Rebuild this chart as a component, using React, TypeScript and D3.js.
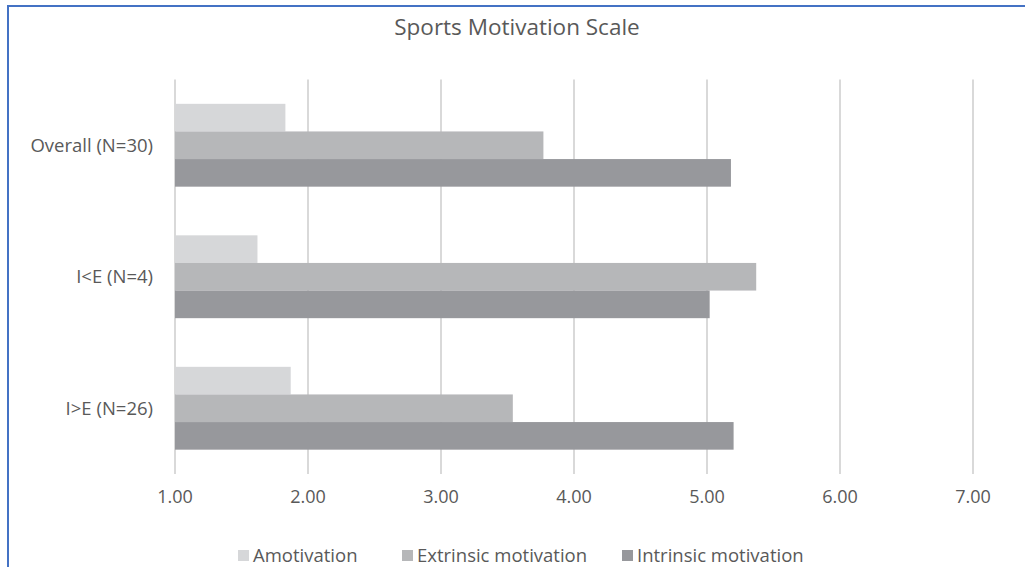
import React from "react";
import * as d3 from "d3";

const categories = ["Overall (N=30)", "I<E (N=4)", "I>E (N=26)"];
const seriesNames = ["Amotivation", "Extrinsic motivation", "Intrinsic motivation"];
const amotivation = [1.83, 1.62, 1.87];
const extrinsic = [3.77, 5.37, 3.54];
const intrinsic = [5.18, 5.02, 5.2];
const xTicks = [1, 2, 3, 4, 5, 6, 7];
const colors = ["#D6D7D9", "#B6B7B9", "#97989C"];

const W = 1025;
const H = 567;
const FONT = "'Open Sans', sans-serif";

export default function App() {
  const series = [amotivation, extrinsic, intrinsic];
  const x = d3.scaleLinear().domain([1, 7]).range([175, 973]);
  const y0 = d3
    .scaleBand<string>()
    .domain(categories)
    .range([79.5, 474])
    .paddingInner(0.37)
    .paddingOuter(0.185);
  const y1 = d3
    .scaleBand<string>()
    .domain(seriesNames)
    .range([0, y0.bandwidth()]);

  const legendX = [238, 402, 622];

  return (
    <svg
      width={W}
      height={H}
      style={{ position: "absolute", left: 0, top: 0, background: "#fff" }}
      fontFamily={FONT}
    >
      <rect x={0} y={0} width={W} height={H} fill="#fff" />
      <line x1={8} y1={6} x2={W} y2={6} stroke="#4472C4" strokeWidth={2} />
      <line x1={8} y1={5} x2={8} y2={H} stroke="#4472C4" strokeWidth={2} />
      <text x={517} y={35} textAnchor="middle" fontSize={22.5} fill="#595959">
        Sports Motivation Scale
      </text>
      {xTicks.map((t) => (
        <g key={t}>
          <line
            x1={x(t)}
            x2={x(t)}
            y1={79.5}
            y2={474}
            stroke="#D9D9D9"
            strokeWidth={2}
          />
          <text
            x={x(t)}
            y={503}
            textAnchor="middle"
            fontSize={18}
            fill="#595959"
          >
            {t.toFixed(2)}
          </text>
        </g>
      ))}
      {categories.map((c, i) => (
        <g key={c}>
          {series.map((s, j) => (
            <rect
              key={j}
              x={x(1)}
              y={(y0(c) as number) + (y1(seriesNames[j]) as number)}
              width={x(s[i]) - x(1)}
              height={y1.bandwidth()}
              fill={colors[j]}
            />
          ))}
          <text
            x={153}
            y={(y0(c) as number) + y0.bandwidth() / 2 + 6.5}
            textAnchor="end"
            fontSize={18.5}
            fill="#595959"
          >
            {c}
          </text>
        </g>
      ))}
      {seriesNames.map((n, j) => (
        <g key={n}>
          <rect x={legendX[j]} y={550} width={11} height={11} fill={colors[j]} />
          <text x={legendX[j] + 15} y={562} fontSize={18.5} fill="#595959">
            {n}
          </text>
        </g>
      ))}
    </svg>
  );
}
